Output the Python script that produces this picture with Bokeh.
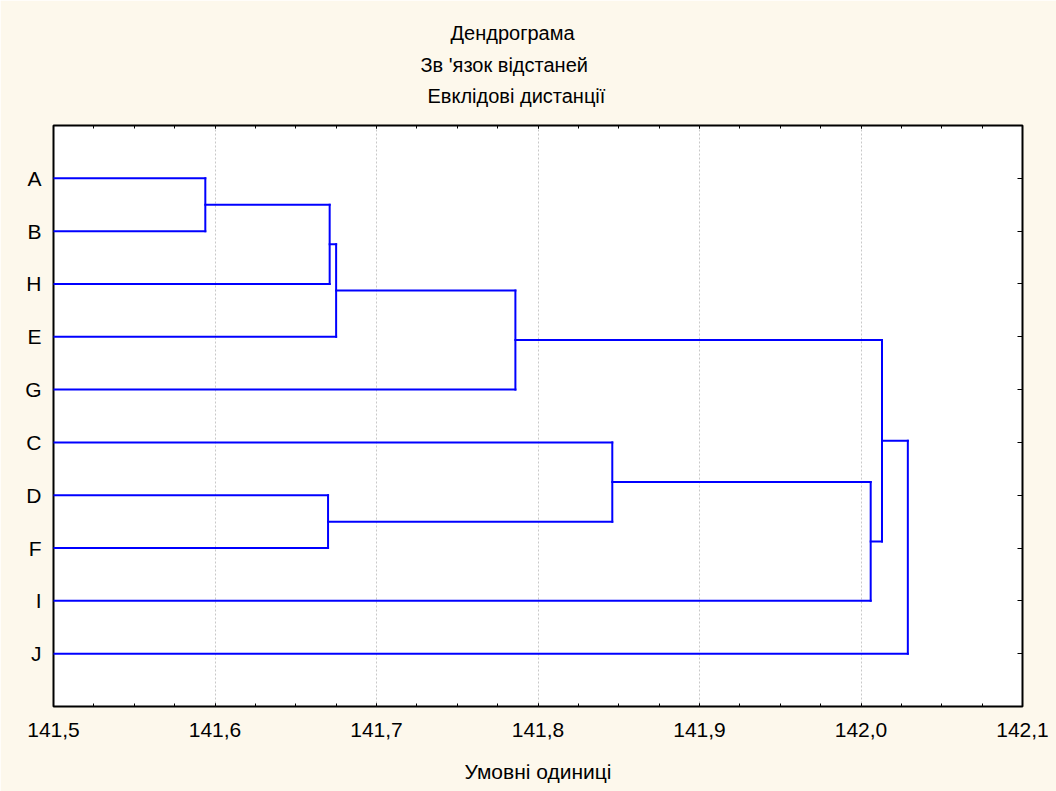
from bokeh.plotting import figure
from bokeh.models import (ColumnDataSource, Range1d, LinearAxis, FixedTicker,
                          CustomJSTickFormatter, Title, Grid, CustomLabelingPolicy)
from bokeh.embed import file_html
from bokeh.resources import INLINE

# ---- data ----
leaves = ["A", "B", "H", "E", "G", "C", "D", "F", "I", "J"]
merge_left = ["A", "m0", "m1", "m2", "D", "C", "m5", "m3", "m7"]
merge_right = ["B", "H", "E", "G", "F", "m4", "I", "m6", "J"]
merge_height = [141.594, 141.671, 141.675, 141.786, 141.670, 141.846, 142.006, 142.013, 142.029]
x_ticks = [141.5, 141.6, 141.7, 141.8, 141.9, 142.0, 142.1]
x_min, x_max = 141.5, 142.1

title_lines = ["Дендрограма", "Зв 'язок відстаней", "Евклідові дистанції"]
x_label = "Умовні одиниці"

FONT = "Liberation Sans"

# ---- compute dendrogram segments ----
pos = {name: (x_min, float(i)) for i, name in enumerate(leaves)}
x0, y0, x1, y1 = [], [], [], []
for k, (a, b, h) in enumerate(zip(merge_left, merge_right, merge_height)):
    xa, ya = pos[a]
    xb, yb = pos[b]
    x0 += [xa, xb]; y0 += [ya, yb]; x1 += [h, h]; y1 += [ya, yb]
    x0.append(h); y0.append(ya); x1.append(h); y1.append(yb)
    pos["m%d" % k] = (h, (ya + yb) / 2.0)

src = ColumnDataSource(dict(x0=x0, y0=y0, x1=x1, y1=y1))

p = figure(width=1056, height=791, output_backend="svg", toolbar_location=None,
           x_range=Range1d(x_min, x_max), y_range=Range1d(len(leaves), -1),
           x_axis_type=None, y_axis_type=None, title=None,
           min_border_left=53, min_border_right=34, min_border_top=125,
           min_border_bottom=85)
p.border_fill_color = "#fdf8ec"
p.background_fill_color = "#ffffff"
p.outline_line_color = "#000000"
p.outline_line_width = 2

p.segment("x0", "y0", "x1", "y1", source=src, line_color="#0000ff",
          line_width=2, line_cap="square")

fmt = CustomJSTickFormatter(code="return tick.toFixed(1).replace('.', ',');")
no_labels = CustomLabelingPolicy(code="""
    const all = [...indices];
    for (const i of all) indices.unset(i);
    return indices;
""")

def xticker():
    return FixedTicker(ticks=x_ticks,
                       minor_ticks=[x_min + 0.025 * i for i in range(25)])

# bottom axis
xb = LinearAxis(ticker=xticker(), formatter=fmt, axis_label=x_label)
xb.axis_line_color = None
xb.major_tick_in = 3; xb.major_tick_out = 0
xb.minor_tick_in = 3; xb.minor_tick_out = 0
xb.major_tick_line_color = "#000000"; xb.minor_tick_line_color = "#000000"
xb.major_label_text_font = FONT
xb.major_label_text_font_size = "21px"
xb.major_label_text_color = "#000000"
xb.major_label_standoff = 16
xb.axis_label_text_font = FONT
xb.axis_label_text_font_size = "21px"
xb.axis_label_text_font_style = "normal"
xb.axis_label_text_color = "#000000"
xb.axis_label_standoff = 20
p.add_layout(xb, "below")

# top axis (ticks only)
xt = LinearAxis(ticker=xticker(), formatter=fmt, major_label_policy=no_labels)
xt.axis_line_color = None
xt.major_tick_in = 3; xt.major_tick_out = 0
xt.minor_tick_in = 3; xt.minor_tick_out = 0
xt.major_label_standoff = 0
p.add_layout(xt, "above")

# left axis (leaf names)
leaf_fmt = CustomJSTickFormatter(args=dict(names=leaves),
                                 code="return names[Math.round(tick)] || '';")
yl = LinearAxis(ticker=FixedTicker(ticks=list(range(len(leaves))), minor_ticks=[]),
                formatter=leaf_fmt)
yl.axis_line_color = None
yl.major_tick_in = 0; yl.major_tick_out = 0
yl.minor_tick_in = 0; yl.minor_tick_out = 0
yl.major_label_text_font = FONT
yl.major_label_text_font_size = "21px"
yl.major_label_text_color = "#000000"
yl.major_label_standoff = 12
p.add_layout(yl, "left")

# right axis (ticks only)
yr = LinearAxis(ticker=FixedTicker(ticks=list(range(len(leaves))), minor_ticks=[]),
                formatter=leaf_fmt, major_label_policy=no_labels)
yr.axis_line_color = None
yr.major_tick_in = 5; yr.major_tick_out = 0
yr.minor_tick_in = 0; yr.minor_tick_out = 0
yr.major_label_standoff = 0
p.add_layout(yr, "right")

# vertical dashed grid
g = Grid(dimension=0, ticker=xticker())
g.grid_line_color = "#c8c8c8"
g.grid_line_dash = "2 2"
g.grid_line_width = 1
p.add_layout(g)

# titles (added innermost first)
offsets = [397, 367, 374]
standoffs = [16, 0, 15]
for txt, off, so in reversed(list(zip(title_lines, offsets, standoffs))):
    t = Title(text=txt, align="left", offset=off, text_font=FONT,
              text_font_size="20px", text_font_style="normal",
              text_color="#000000", standoff=so)
    p.add_layout(t, "above")

open("out.html", "w").write(file_html(p, INLINE))
